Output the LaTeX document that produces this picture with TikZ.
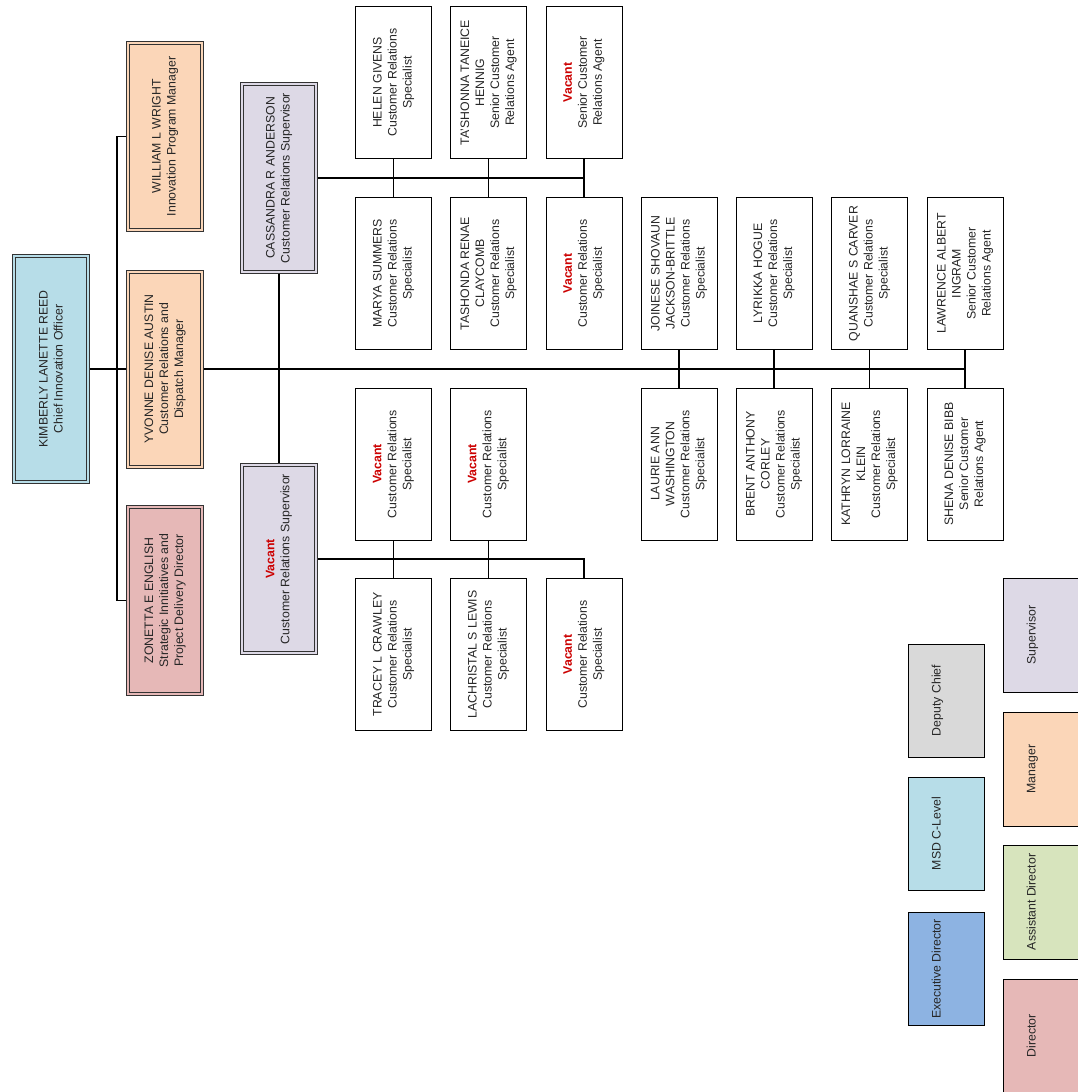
\documentclass[tikz,border=0pt]{standalone}
\usepackage{fontspec}
\setmainfont{Liberation Sans}
\definecolor{cchief}{HTML}{B7DDE8}
\definecolor{cmgr}{HTML}{FBD6B8}
\definecolor{cdir}{HTML}{E6B8B7}
\definecolor{csup}{HTML}{DDD9E6}
\definecolor{cdep}{HTML}{D9D9D9}
\definecolor{cexec}{HTML}{8DB3E2}
\definecolor{casst}{HTML}{D7E4BD}
\definecolor{vred}{HTML}{CC0000}
\newcommand{\vac}{\textcolor{vred}{\textbf{Vacant}}}
\begin{document}
\begin{tikzpicture}[x=1pt,y=-1pt,
  txt/.style={rotate=90,align=center,inner sep=0pt,font=\fontsize{12.3}{15}\selectfont,text=black!85},
  emp/.style={txt,draw=black,line width=1pt,fill=white,minimum width=152pt,minimum height=76pt},
  dbl/.style={txt,draw=black!80,line width=1pt,double=#1,double distance=2pt,fill=#1,outer sep=2pt,minimum height=74pt},
  leg/.style={txt,draw=black,line width=1pt,fill=#1,minimum width=113pt,minimum height=76pt},
  conn/.style={draw=black,line width=1.4pt}]
\useasboundingbox (0,0) rectangle (1078,1092);
\fill[white] (0,0) rectangle (1078,1092);
% top level
\node[dbl=cchief,minimum width=226pt] (chief) at (51,369) {KIMBERLY LANETTE REED\\Chief Innovation Officer};
\node[dbl=cmgr,minimum width=187pt] (william) at (165,136.5) {WILLIAM L WRIGHT\\Innovation Program Manager};
\node[dbl=cmgr,minimum width=195pt] (yvonne) at (165,369) {YVONNE DENISE AUSTIN\\Customer Relations and\\Dispatch Manager};
\node[dbl=cdir,minimum width=187pt] (zonetta) at (165,600.5) {ZONETTA E ENGLISH\\Strategic Innitiatives and\\Project Delivery Director};
% supervisors
\node[dbl=csup,minimum width=188pt] (cass) at (279,178) {CASSANDRA R ANDERSON\\Customer Relations Supervisor};
\node[dbl=csup,minimum width=188pt] (vsup) at (279,559) {\vac\\Customer Relations Supervisor};
% Cassandra's team
\node[emp] (helen) at (393.5,82.5) {HELEN GIVENS\\Customer Relations\\Specialist};
\node[emp] (tash) at (488.5,82.5) {TA'SHONNA TANEICE\\HENNIG\\Senior Customer\\Relations Agent};
\node[emp] (vsra) at (584,82.5) {\vac\\Senior Customer\\Relations Agent};
\node[emp] (marya) at (393.5,273.5) {MARYA SUMMERS\\Customer Relations\\Specialist};
\node[emp] (tashonda) at (488.5,273.5) {TASHONDA RENAE\\CLAYCOMB\\Customer Relations\\Specialist};
\node[emp] (vcrsa) at (584,273.5) {\vac\\Customer Relations\\Specialist};
% Yvonne's direct team
\node[emp] (joinese) at (679,273.5) {JOINESE SHOVAUN\\JACKSON-BRITTLE\\Customer Relations\\Specialist};
\node[emp] (lyrikka) at (774,273.5) {LYRIKKA HOGUE\\Customer Relations\\Specialist};
\node[emp] (quanshae) at (869.5,273.5) {QUANSHAE S CARVER\\Customer Relations\\Specialist};
\node[emp] (lawrence) at (965,273.5) {LAWRENCE ALBERT\\INGRAM\\Senior Customer\\Relations Agent};
\node[emp] (laurie) at (679,464) {LAURIE ANN\\WASHINGTON\\Customer Relations\\Specialist};
\node[emp] (brent) at (774,464) {BRENT ANTHONY\\CORLEY\\Customer Relations\\Specialist};
\node[emp] (kathryn) at (869.5,464) {KATHRYN LORRAINE\\KLEIN\\Customer Relations\\Specialist};
\node[emp] (shena) at (965,464) {SHENA DENISE BIBB\\Senior Customer\\Relations Agent};
% Vacant supervisor's team
\node[emp] (vcrsb) at (393.5,464) {\vac\\Customer Relations\\Specialist};
\node[emp] (vcrsc) at (488.5,464) {\vac\\Customer Relations\\Specialist};
\node[emp] (tracey) at (393.5,654.5) {TRACEY L CRAWLEY\\Customer Relations\\Specialist};
\node[emp] (lachristal) at (488.5,654.5) {LACHRISTAL S LEWIS\\Customer Relations\\Specialist};
\node[emp] (vcrsd) at (584,654.5) {\vac\\Customer Relations\\Specialist};
% legend
\node[leg=cdep] (lgdep) at (946,700.5) {Deputy Chief\\\strut};
\node[leg=cchief] (lgmsd) at (946,833.5) {MSD C-Level\\\strut};
\node[leg=cexec] (lgexec) at (946,969) {Executive Director\\\strut};
\node[leg=csup,minimum width=114pt] (lgsup) at (1041,635) {Supervisor\\\strut};
\node[leg=cmgr,minimum width=114pt] (lgmgr) at (1041,769) {Manager\\\strut};
\node[leg=casst,minimum width=114pt] (lgasst) at (1041,902) {Assistant Director\\\strut};
\node[leg=cdir,minimum width=114pt] (lgdir) at (1041,1036) {Director\\\strut};
% connectors
\coordinate (trunk) at (117,369);
\draw[conn] (chief) -- (yvonne);
\draw[conn] (william) -| (trunk) |- (zonetta);
\draw[conn] (yvonne) -| (lawrence);
\draw[conn] (cass) -- (vsup);
\draw[conn] (cass) -| (vsra);
\draw[conn] (vsra) -- (vcrsa);
\draw[conn] (helen) -- (marya);
\draw[conn] (tash) -- (tashonda);
\draw[conn] (joinese) -- (laurie);
\draw[conn] (lyrikka) -- (brent);
\draw[conn] (quanshae) -- (kathryn);
\draw[conn] (lawrence) -- (shena);
\draw[conn] (vsup) -| (vcrsd);
\draw[conn] (vcrsb) -- (tracey);
\draw[conn] (vcrsc) -- (lachristal);
\end{tikzpicture}
\end{document}
